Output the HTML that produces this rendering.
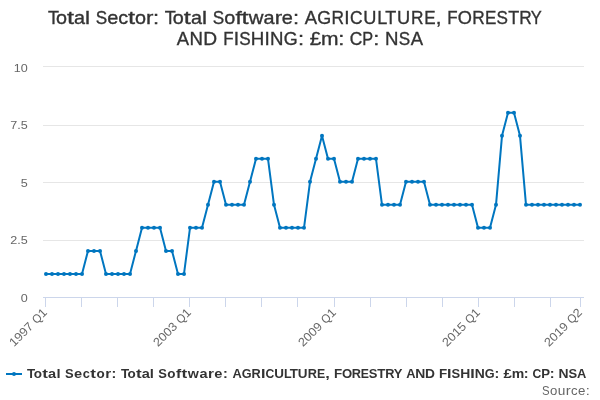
<!DOCTYPE html>
<html><head><meta charset="utf-8"><style>
html,body{margin:0;padding:0;background:#fff;width:600px;height:400px;overflow:hidden}
svg{display:block;will-change:transform}
text{font-family:"Liberation Sans",sans-serif}
</style></head><body>
<svg width="600" height="400" viewBox="0 0 600 400">
<rect width="600" height="400" fill="#fff"/>
<g font-size="19" fill="#333333" stroke="#333333" stroke-width="0.35"><text transform="matrix(0.947 0 0 1 48.05 23.8)">T</text><text transform="matrix(1.042 0 0 1 55.98 23.8)">o</text><text transform="matrix(1.337 0 0 1 66.99 23.8)">t</text><text transform="matrix(1.044 0 0 1 74.06 23.8)">a</text><text transform="matrix(1.185 0 0 1 85.09 23.8)">l</text><text transform="matrix(0.902 0 0 1 95.81 23.8)">S</text><text transform="matrix(1.048 0 0 1 107.17 23.8)">e</text><text transform="matrix(1.042 0 0 1 118.18 23.8)">c</text><text transform="matrix(1.337 0 0 1 128.03 23.8)">t</text><text transform="matrix(1.042 0 0 1 135.04 23.8)">o</text><text transform="matrix(1.170 0 0 1 145.99 23.8)">r</text><text transform="matrix(1.149 0 0 1 153.02 23.8)">:</text><text transform="matrix(0.947 0 0 1 164.75 23.8)">T</text><text transform="matrix(1.042 0 0 1 172.74 23.8)">o</text><text transform="matrix(1.337 0 0 1 183.81 23.8)">t</text><text transform="matrix(1.044 0 0 1 190.92 23.8)">a</text><text transform="matrix(1.185 0 0 1 202.02 23.8)">l</text><text transform="matrix(0.902 0 0 1 212.81 23.8)">S</text><text transform="matrix(1.042 0 0 1 224.36 23.8)">o</text><text transform="matrix(1.200 0 0 1 235.47 23.8)">f</text><text transform="matrix(1.337 0 0 1 241.56 23.8)">t</text><text transform="matrix(1.073 0 0 1 248.68 23.8)">w</text><text transform="matrix(1.044 0 0 1 263.56 23.8)">a</text><text transform="matrix(1.170 0 0 1 274.70 23.8)">r</text><text transform="matrix(1.048 0 0 1 281.77 23.8)">e</text><text transform="matrix(1.149 0 0 1 292.96 23.8)">:</text><text transform="matrix(0.972 0 0 1 304.86 23.8)">A</text><text transform="matrix(0.944 0 0 1 317.15 23.8)">G</text><text transform="matrix(0.911 0 0 1 331.42 23.8)">R</text><text transform="matrix(1.006 0 0 1 344.23 23.8)">I</text><text transform="matrix(0.916 0 0 1 349.88 23.8)">C</text><text transform="matrix(0.960 0 0 1 363.23 23.8)">U</text><text transform="matrix(0.949 0 0 1 377.23 23.8)">L</text><text transform="matrix(0.947 0 0 1 385.27 23.8)">T</text><text transform="matrix(0.960 0 0 1 396.98 23.8)">U</text><text transform="matrix(0.911 0 0 1 411.01 23.8)">R</text><text transform="matrix(0.897 0 0 1 424.33 23.8)">E</text><text transform="matrix(1.084 0 0 1 435.75 23.8)">,</text><text transform="matrix(0.892 0 0 1 447.23 23.8)">F</text><text transform="matrix(0.959 0 0 1 457.78 23.8)">O</text><text transform="matrix(0.911 0 0 1 472.19 23.8)">R</text><text transform="matrix(0.897 0 0 1 484.92 23.8)">E</text><text transform="matrix(0.902 0 0 1 496.50 23.8)">S</text><text transform="matrix(0.947 0 0 1 508.13 23.8)">T</text><text transform="matrix(0.911 0 0 1 519.32 23.8)">R</text><text transform="matrix(0.868 0 0 1 530.87 23.8)">Y</text></g>
<g font-size="19" fill="#333333" stroke="#333333" stroke-width="0.35"><text transform="matrix(0.972 0 0 1 176.86 44.6)">A</text><text transform="matrix(0.981 0 0 1 189.47 44.6)">N</text><text transform="matrix(1.010 0 0 1 203.26 44.6)">D</text><text transform="matrix(0.892 0 0 1 223.33 44.6)">F</text><text transform="matrix(1.006 0 0 1 233.85 44.6)">I</text><text transform="matrix(0.902 0 0 1 239.25 44.6)">S</text><text transform="matrix(0.986 0 0 1 250.86 44.6)">H</text><text transform="matrix(1.006 0 0 1 264.61 44.6)">I</text><text transform="matrix(0.981 0 0 1 270.01 44.6)">N</text><text transform="matrix(0.944 0 0 1 283.71 44.6)">G</text><text transform="matrix(1.149 0 0 1 297.89 44.6)">:</text><text transform="matrix(1.084 0 0 1 309.87 44.6)">£</text><text transform="matrix(1.108 0 0 1 321.05 44.6)">m</text><text transform="matrix(1.149 0 0 1 338.18 44.6)">:</text><text transform="matrix(0.916 0 0 1 349.69 44.6)">C</text><text transform="matrix(0.857 0 0 1 362.28 44.6)">P</text><text transform="matrix(1.149 0 0 1 373.13 44.6)">:</text><text transform="matrix(0.981 0 0 1 384.93 44.6)">N</text><text transform="matrix(0.902 0 0 1 398.66 44.6)">S</text><text transform="matrix(0.972 0 0 1 410.64 44.6)">A</text></g>
<rect x="43" y="66" width="541" height="1" fill="#e6e6e6"/><rect x="43" y="125" width="541" height="1" fill="#e6e6e6"/><rect x="43" y="182" width="541" height="1" fill="#e6e6e6"/><rect x="43" y="240" width="541" height="1" fill="#e6e6e6"/>
<rect x="43" y="297" width="541" height="1" fill="#ccd6eb"/>
<rect x="45" y="298" width="1" height="9" fill="#ccd6eb"/><rect x="81" y="298" width="1" height="9" fill="#ccd6eb"/><rect x="117" y="298" width="1" height="9" fill="#ccd6eb"/><rect x="153" y="298" width="1" height="9" fill="#ccd6eb"/><rect x="189" y="298" width="1" height="9" fill="#ccd6eb"/><rect x="225" y="298" width="1" height="9" fill="#ccd6eb"/><rect x="261" y="298" width="1" height="9" fill="#ccd6eb"/><rect x="297" y="298" width="1" height="9" fill="#ccd6eb"/><rect x="334" y="298" width="1" height="9" fill="#ccd6eb"/><rect x="370" y="298" width="1" height="9" fill="#ccd6eb"/><rect x="406" y="298" width="1" height="9" fill="#ccd6eb"/><rect x="442" y="298" width="1" height="9" fill="#ccd6eb"/><rect x="478" y="298" width="1" height="9" fill="#ccd6eb"/><rect x="514" y="298" width="1" height="9" fill="#ccd6eb"/><rect x="550" y="298" width="1" height="9" fill="#ccd6eb"/><rect x="580" y="298" width="1" height="9" fill="#ccd6eb"/>
<g font-size="11.6" fill="#666666"><text transform="matrix(1.085 0 0 1 13.70 72.3)">1</text><text transform="matrix(1.085 0 0 1 20.70 72.3)">0</text></g><g font-size="11.6" fill="#666666"><text transform="matrix(1.085 0 0 1 10.21 129.2)">7</text><text transform="matrix(1.085 0 0 1 17.20 129.2)">.</text><text transform="matrix(1.085 0 0 1 20.70 129.2)">5</text></g><g font-size="11.6" fill="#666666"><text transform="matrix(1.085 0 0 1 20.70 187.2)">5</text></g><g font-size="11.6" fill="#666666"><text transform="matrix(1.085 0 0 1 10.21 244.1)">2</text><text transform="matrix(1.085 0 0 1 17.20 244.1)">.</text><text transform="matrix(1.085 0 0 1 20.70 244.1)">5</text></g><g font-size="11.6" fill="#666666"><text transform="matrix(1.085 0 0 1 20.70 301.8)">0</text></g>
<g font-size="12" fill="#666666" transform="translate(47.9,313.3) rotate(-45)"><text transform="matrix(1.068 0 0 1 -48.00 0)">1</text><text transform="matrix(1.068 0 0 1 -40.88 0)">9</text><text transform="matrix(1.068 0 0 1 -33.75 0)">9</text><text transform="matrix(1.068 0 0 1 -26.63 0)">7</text><text transform="matrix(0.944 0 0 1 -15.94 0)">Q</text><text transform="matrix(1.068 0 0 1 -7.13 0)">1</text></g><g font-size="12" fill="#666666" transform="translate(191.9,313.3) rotate(-45)"><text transform="matrix(1.068 0 0 1 -48.00 0)">2</text><text transform="matrix(1.068 0 0 1 -40.88 0)">0</text><text transform="matrix(1.068 0 0 1 -33.75 0)">0</text><text transform="matrix(1.068 0 0 1 -26.63 0)">3</text><text transform="matrix(0.944 0 0 1 -15.94 0)">Q</text><text transform="matrix(1.068 0 0 1 -7.13 0)">1</text></g><g font-size="12" fill="#666666" transform="translate(336.9,313.3) rotate(-45)"><text transform="matrix(1.068 0 0 1 -48.00 0)">2</text><text transform="matrix(1.068 0 0 1 -40.88 0)">0</text><text transform="matrix(1.068 0 0 1 -33.75 0)">0</text><text transform="matrix(1.068 0 0 1 -26.63 0)">9</text><text transform="matrix(0.944 0 0 1 -15.94 0)">Q</text><text transform="matrix(1.068 0 0 1 -7.13 0)">1</text></g><g font-size="12" fill="#666666" transform="translate(480.9,313.3) rotate(-45)"><text transform="matrix(1.068 0 0 1 -48.00 0)">2</text><text transform="matrix(1.068 0 0 1 -40.88 0)">0</text><text transform="matrix(1.068 0 0 1 -33.75 0)">1</text><text transform="matrix(1.068 0 0 1 -26.63 0)">5</text><text transform="matrix(0.944 0 0 1 -15.94 0)">Q</text><text transform="matrix(1.068 0 0 1 -7.13 0)">1</text></g><g font-size="12" fill="#666666" transform="translate(582.9,313.3) rotate(-45)"><text transform="matrix(1.068 0 0 1 -48.00 0)">2</text><text transform="matrix(1.068 0 0 1 -40.88 0)">0</text><text transform="matrix(1.068 0 0 1 -33.75 0)">1</text><text transform="matrix(1.068 0 0 1 -26.63 0)">9</text><text transform="matrix(0.944 0 0 1 -15.94 0)">Q</text><text transform="matrix(1.068 0 0 1 -7.13 0)">2</text></g>
<path d="M 46.00 273.89 L 52.00 273.89 L 58.00 273.89 L 64.00 273.89 L 70.00 273.89 L 76.00 273.89 L 82.00 273.89 L 88.00 250.88 L 94.00 250.88 L 100.00 250.88 L 106.00 273.89 L 112.00 273.89 L 118.00 273.89 L 124.00 273.89 L 130.00 273.89 L 136.00 250.88 L 142.00 227.87 L 148.00 227.87 L 154.00 227.87 L 160.00 227.87 L 166.00 250.88 L 172.00 250.88 L 178.00 273.89 L 184.00 273.89 L 190.00 227.87 L 196.00 227.87 L 202.00 227.87 L 208.00 204.86 L 214.00 181.85 L 220.00 181.85 L 226.00 204.86 L 232.00 204.86 L 238.00 204.86 L 244.00 204.86 L 250.00 181.85 L 256.00 158.84 L 262.00 158.84 L 268.00 158.84 L 274.00 204.86 L 280.00 227.87 L 286.00 227.87 L 292.00 227.87 L 298.00 227.87 L 304.00 227.87 L 310.00 181.85 L 316.00 158.84 L 322.00 135.83 L 328.00 158.84 L 334.00 158.84 L 340.00 181.85 L 346.00 181.85 L 352.00 181.85 L 358.00 158.84 L 364.00 158.84 L 370.00 158.84 L 376.00 158.84 L 382.00 204.86 L 388.00 204.86 L 394.00 204.86 L 400.00 204.86 L 406.00 181.85 L 412.00 181.85 L 418.00 181.85 L 424.00 181.85 L 430.00 204.86 L 436.00 204.86 L 442.00 204.86 L 448.00 204.86 L 454.00 204.86 L 460.00 204.86 L 466.00 204.86 L 472.00 204.86 L 478.00 227.87 L 484.00 227.87 L 490.00 227.87 L 496.00 204.86 L 502.00 135.83 L 508.00 112.82 L 514.00 112.82 L 520.00 135.83 L 526.00 204.86 L 532.00 204.86 L 538.00 204.86 L 544.00 204.86 L 550.00 204.86 L 556.00 204.86 L 562.00 204.86 L 568.00 204.86 L 574.00 204.86 L 580.00 204.86" fill="none" stroke="#0076c0" stroke-width="2" stroke-linejoin="round" stroke-linecap="round"/>
<g fill="#0076c0"><circle cx="46.00" cy="273.89" r="2"/><circle cx="52.00" cy="273.89" r="2"/><circle cx="58.00" cy="273.89" r="2"/><circle cx="64.00" cy="273.89" r="2"/><circle cx="70.00" cy="273.89" r="2"/><circle cx="76.00" cy="273.89" r="2"/><circle cx="82.00" cy="273.89" r="2"/><circle cx="88.00" cy="250.88" r="2"/><circle cx="94.00" cy="250.88" r="2"/><circle cx="100.00" cy="250.88" r="2"/><circle cx="106.00" cy="273.89" r="2"/><circle cx="112.00" cy="273.89" r="2"/><circle cx="118.00" cy="273.89" r="2"/><circle cx="124.00" cy="273.89" r="2"/><circle cx="130.00" cy="273.89" r="2"/><circle cx="136.00" cy="250.88" r="2"/><circle cx="142.00" cy="227.87" r="2"/><circle cx="148.00" cy="227.87" r="2"/><circle cx="154.00" cy="227.87" r="2"/><circle cx="160.00" cy="227.87" r="2"/><circle cx="166.00" cy="250.88" r="2"/><circle cx="172.00" cy="250.88" r="2"/><circle cx="178.00" cy="273.89" r="2"/><circle cx="184.00" cy="273.89" r="2"/><circle cx="190.00" cy="227.87" r="2"/><circle cx="196.00" cy="227.87" r="2"/><circle cx="202.00" cy="227.87" r="2"/><circle cx="208.00" cy="204.86" r="2"/><circle cx="214.00" cy="181.85" r="2"/><circle cx="220.00" cy="181.85" r="2"/><circle cx="226.00" cy="204.86" r="2"/><circle cx="232.00" cy="204.86" r="2"/><circle cx="238.00" cy="204.86" r="2"/><circle cx="244.00" cy="204.86" r="2"/><circle cx="250.00" cy="181.85" r="2"/><circle cx="256.00" cy="158.84" r="2"/><circle cx="262.00" cy="158.84" r="2"/><circle cx="268.00" cy="158.84" r="2"/><circle cx="274.00" cy="204.86" r="2"/><circle cx="280.00" cy="227.87" r="2"/><circle cx="286.00" cy="227.87" r="2"/><circle cx="292.00" cy="227.87" r="2"/><circle cx="298.00" cy="227.87" r="2"/><circle cx="304.00" cy="227.87" r="2"/><circle cx="310.00" cy="181.85" r="2"/><circle cx="316.00" cy="158.84" r="2"/><circle cx="322.00" cy="135.83" r="2"/><circle cx="328.00" cy="158.84" r="2"/><circle cx="334.00" cy="158.84" r="2"/><circle cx="340.00" cy="181.85" r="2"/><circle cx="346.00" cy="181.85" r="2"/><circle cx="352.00" cy="181.85" r="2"/><circle cx="358.00" cy="158.84" r="2"/><circle cx="364.00" cy="158.84" r="2"/><circle cx="370.00" cy="158.84" r="2"/><circle cx="376.00" cy="158.84" r="2"/><circle cx="382.00" cy="204.86" r="2"/><circle cx="388.00" cy="204.86" r="2"/><circle cx="394.00" cy="204.86" r="2"/><circle cx="400.00" cy="204.86" r="2"/><circle cx="406.00" cy="181.85" r="2"/><circle cx="412.00" cy="181.85" r="2"/><circle cx="418.00" cy="181.85" r="2"/><circle cx="424.00" cy="181.85" r="2"/><circle cx="430.00" cy="204.86" r="2"/><circle cx="436.00" cy="204.86" r="2"/><circle cx="442.00" cy="204.86" r="2"/><circle cx="448.00" cy="204.86" r="2"/><circle cx="454.00" cy="204.86" r="2"/><circle cx="460.00" cy="204.86" r="2"/><circle cx="466.00" cy="204.86" r="2"/><circle cx="472.00" cy="204.86" r="2"/><circle cx="478.00" cy="227.87" r="2"/><circle cx="484.00" cy="227.87" r="2"/><circle cx="490.00" cy="227.87" r="2"/><circle cx="496.00" cy="204.86" r="2"/><circle cx="502.00" cy="135.83" r="2"/><circle cx="508.00" cy="112.82" r="2"/><circle cx="514.00" cy="112.82" r="2"/><circle cx="520.00" cy="135.83" r="2"/><circle cx="526.00" cy="204.86" r="2"/><circle cx="532.00" cy="204.86" r="2"/><circle cx="538.00" cy="204.86" r="2"/><circle cx="544.00" cy="204.86" r="2"/><circle cx="550.00" cy="204.86" r="2"/><circle cx="556.00" cy="204.86" r="2"/><circle cx="562.00" cy="204.86" r="2"/><circle cx="568.00" cy="204.86" r="2"/><circle cx="574.00" cy="204.86" r="2"/><circle cx="580.00" cy="204.86" r="2"/></g>
<path d="M 6 374 L 22 374" stroke="#0076c0" stroke-width="2"/>
<circle cx="14" cy="374" r="2" fill="#0076c0"/>
<g font-size="12.7" font-weight="bold" fill="#333333"><text transform="matrix(1.055 0 0 1 26.94 377.7)">T</text><text transform="matrix(1.063 0 0 1 33.71 377.7)">o</text><text transform="matrix(1.350 0 0 1 42.19 377.7)">t</text><text transform="matrix(1.146 0 0 1 48.08 377.7)">a</text><text transform="matrix(1.166 0 0 1 56.41 377.7)">l</text><text transform="matrix(1.020 0 0 1 64.94 377.7)">S</text><text transform="matrix(1.152 0 0 1 74.11 377.7)">e</text><text transform="matrix(1.007 0 0 1 82.75 377.7)">c</text><text transform="matrix(1.350 0 0 1 90.29 377.7)">t</text><text transform="matrix(1.063 0 0 1 96.38 377.7)">o</text><text transform="matrix(1.197 0 0 1 105.14 377.7)">r</text><text transform="matrix(1.135 0 0 1 111.42 377.7)">:</text><text transform="matrix(1.055 0 0 1 120.94 377.7)">T</text><text transform="matrix(1.063 0 0 1 127.58 377.7)">o</text><text transform="matrix(1.350 0 0 1 135.88 377.7)">t</text><text transform="matrix(1.146 0 0 1 141.65 377.7)">a</text><text transform="matrix(1.166 0 0 1 149.79 377.7)">l</text><text transform="matrix(1.020 0 0 1 158.14 377.7)">S</text><text transform="matrix(1.063 0 0 1 167.30 377.7)">o</text><text transform="matrix(1.234 0 0 1 176.05 377.7)">f</text><text transform="matrix(1.350 0 0 1 181.59 377.7)">t</text><text transform="matrix(1.122 0 0 1 187.67 377.7)">w</text><text transform="matrix(1.146 0 0 1 199.42 377.7)">a</text><text transform="matrix(1.197 0 0 1 208.02 377.7)">r</text><text transform="matrix(1.152 0 0 1 214.28 377.7)">e</text><text transform="matrix(1.135 0 0 1 222.91 377.7)">:</text><text transform="matrix(1.013 0 0 1 232.44 377.7)">A</text><text transform="matrix(0.997 0 0 1 241.75 377.7)">G</text><text transform="matrix(1.007 0 0 1 251.62 377.7)">R</text><text transform="matrix(1.265 0 0 1 260.90 377.7)">I</text><text transform="matrix(0.960 0 0 1 265.38 377.7)">C</text><text transform="matrix(1.062 0 0 1 274.21 377.7)">U</text><text transform="matrix(0.986 0 0 1 283.98 377.7)">L</text><text transform="matrix(1.055 0 0 1 289.66 377.7)">T</text><text transform="matrix(1.062 0 0 1 297.87 377.7)">U</text><text transform="matrix(1.007 0 0 1 307.65 377.7)">R</text><text transform="matrix(0.968 0 0 1 316.91 377.7)">E</text><text transform="matrix(1.292 0 0 1 325.14 377.7)">,</text><text transform="matrix(1.057 0 0 1 333.90 377.7)">F</text><text transform="matrix(1.033 0 0 1 341.89 377.7)">O</text><text transform="matrix(1.007 0 0 1 351.84 377.7)">R</text><text transform="matrix(0.968 0 0 1 360.86 377.7)">E</text><text transform="matrix(1.020 0 0 1 368.85 377.7)">S</text><text transform="matrix(1.055 0 0 1 377.28 377.7)">T</text><text transform="matrix(1.007 0 0 1 385.26 377.7)">R</text><text transform="matrix(1.026 0 0 1 393.65 377.7)">Y</text><text transform="matrix(1.013 0 0 1 406.19 377.7)">A</text><text transform="matrix(1.095 0 0 1 415.26 377.7)">N</text><text transform="matrix(1.086 0 0 1 425.08 377.7)">D</text><text transform="matrix(1.057 0 0 1 438.90 377.7)">F</text><text transform="matrix(1.265 0 0 1 447.10 377.7)">I</text><text transform="matrix(1.020 0 0 1 451.55 377.7)">S</text><text transform="matrix(1.095 0 0 1 460.20 377.7)">H</text><text transform="matrix(1.265 0 0 1 470.23 377.7)">I</text><text transform="matrix(1.095 0 0 1 474.70 377.7)">N</text><text transform="matrix(0.997 0 0 1 484.74 377.7)">G</text><text transform="matrix(1.135 0 0 1 494.59 377.7)">:</text><text transform="matrix(1.182 0 0 1 503.57 377.7)">£</text><text transform="matrix(1.107 0 0 1 511.66 377.7)">m</text><text transform="matrix(1.135 0 0 1 523.79 377.7)">:</text><text transform="matrix(0.960 0 0 1 532.50 377.7)">C</text><text transform="matrix(1.038 0 0 1 541.14 377.7)">P</text><text transform="matrix(1.135 0 0 1 549.78 377.7)">:</text><text transform="matrix(1.095 0 0 1 558.60 377.7)">N</text><text transform="matrix(1.020 0 0 1 568.53 377.7)">S</text><text transform="matrix(1.013 0 0 1 577.07 377.7)">A</text></g>
<g font-size="12.7" fill="#666666"><text transform="matrix(0.899 0 0 1 541.96 395)">S</text><text transform="matrix(1.039 0 0 1 549.98 395)">o</text><text transform="matrix(1.077 0 0 1 557.72 395)">u</text><text transform="matrix(1.167 0 0 1 565.73 395)">r</text><text transform="matrix(1.039 0 0 1 570.93 395)">c</text><text transform="matrix(1.045 0 0 1 577.88 395)">e</text><text transform="matrix(1.146 0 0 1 585.66 395)">:</text></g>
</svg>
</body></html>
